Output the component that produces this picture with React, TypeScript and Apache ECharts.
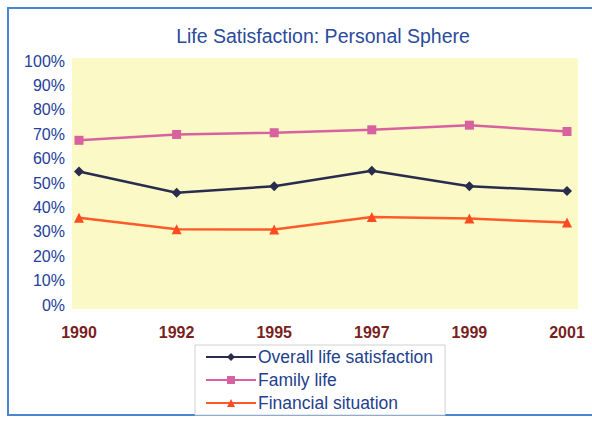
import React, { useEffect, useRef } from "react";
import * as echarts from "echarts";

const years = ["1990", "1992", "1995", "1997", "1999", "2001"];
const overall = [54.7, 46.0, 48.7, 55.0, 48.7, 46.7];
const family = [67.5, 69.9, 70.6, 71.8, 73.7, 71.1];
const financial = [35.8, 31.0, 30.9, 36.1, 35.4, 33.8];
const seriesNames = ["Overall life satisfaction", "Family life", "Financial situation"];

export default function App() {
  const ref = useRef<HTMLDivElement>(null);
  useEffect(() => {
    const chart = echarts.init(ref.current!, null, { renderer: "svg" });
    const font = "Liberation Sans, Arial, sans-serif";
    chart.setOption({
      animation: false,
      backgroundColor: "#ffffff",
      title: {
        text: "Life Satisfaction: Personal Sphere",
        left: 318,
        textAlign: "center",
        top: 21,
        textStyle: { color: "#2b4b9b", fontSize: 19.5, fontWeight: "normal", fontFamily: font },
      },
      graphic: [
        {
          type: "rect",
          shape: { x: 8, y: 8, width: 600, height: 407 },
          style: { fill: "none", stroke: "#4a86cf", lineWidth: 2 },
          z: 0,
        },
        {
          type: "rect",
          shape: { x: 72, y: 58, width: 506, height: 251 },
          style: { fill: "#fbf9c6", stroke: "none" },
          z: -1,
        },
      ],
      grid: { left: 79, right: 25, top: 61, height: 244, containLabel: false },
      xAxis: {
        type: "category",
        data: years,
        boundaryGap: false,
        axisLine: { show: false },
        axisTick: { show: false },
        axisLabel: {
          color: "#7a1f1f",
          fontSize: 16,
          fontWeight: "bold",
          fontFamily: font,
          margin: 19,
        },
      },
      yAxis: {
        type: "value",
        min: 0,
        max: 100,
        interval: 10,
        axisLine: { show: false },
        axisTick: { show: false },
        splitLine: { show: false },
        axisLabel: {
          formatter: "{value}%",
          color: "#23409a",
          fontSize: 16,
          fontFamily: font,
          margin: 14,
        },
      },
      legend: {
        orient: "vertical",
        left: 195,
        top: 345,
        itemWidth: 50,
        itemHeight: 10,
        itemGap: 5,
        padding: [3, 12, 3, 10],
        borderColor: "#d0d0d0",
        borderWidth: 1,
        backgroundColor: "#ffffff",
        data: seriesNames,
        textStyle: { color: "#1f3f8f", fontSize: 17.5, fontFamily: font, padding: [0, 0, 0, -3] },
      },
      series: [
        {
          name: seriesNames[0],
          type: "line",
          data: overall,
          symbol: "diamond",
          symbolSize: 10,
          color: "#2a2c4e",
          lineStyle: { width: 2.5, color: "#2a2c4e" },
          itemStyle: { color: "#2a2c4e" },
        },
        {
          name: seriesNames[1],
          type: "line",
          data: family,
          symbol: "rect",
          symbolSize: 9,
          color: "#d8619f",
          lineStyle: { width: 2.5, color: "#d8619f" },
          itemStyle: { color: "#d8619f" },
        },
        {
          name: seriesNames[2],
          type: "line",
          data: financial,
          symbol: "triangle",
          symbolSize: 10,
          color: "#ff4b1f",
          lineStyle: { width: 2.5, color: "#ff5a2a" },
          itemStyle: { color: "#ff4b1f" },
        },
      ],
    });
    return () => chart.dispose();
  }, []);
  return (
    <div
      ref={ref}
      style={{ position: "fixed", left: 0, top: 0, width: 592, height: 422 }}
    />
  );
}
